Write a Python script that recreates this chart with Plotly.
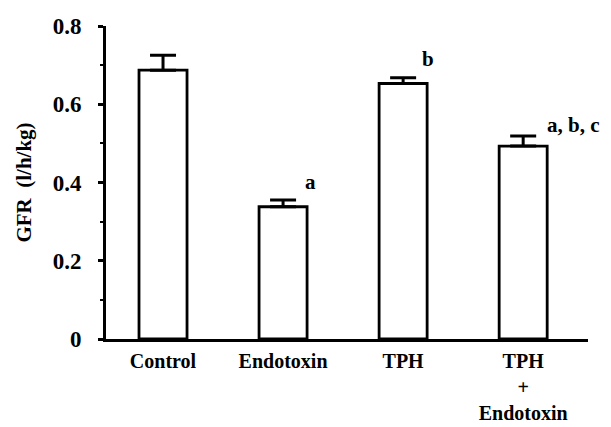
import plotly.graph_objects as go

categories = ["Control", "Endotoxin", "TPH", "TPH<br>+<br>Endotoxin"]
gfr_mean = [0.687, 0.338, 0.653, 0.493]
gfr_sem = [0.038, 0.017, 0.015, 0.026]
sig_labels = ["", "a", "b", "a, b, c"]

font_family = "Liberation Serif"
xpos = list(range(len(categories)))

fig = go.Figure()
fig.add_trace(go.Bar(
    x=xpos, y=gfr_mean, width=0.4,
    marker=dict(color="white", line=dict(color="black", width=2.8)),
    error_y=dict(type="data", array=gfr_sem, arrayminus=[0]*4, symmetric=False,
                 color="black", thickness=3, width=13),
))

label_offsets = [(0, 0), (0.225, 0.047), (0.21, 0.047), (0.42, 0.028)]
for i, lab in enumerate(sig_labels):
    if not lab:
        continue
    dx, dy = label_offsets[i]
    fig.add_annotation(x=xpos[i] + dx, y=gfr_mean[i] + gfr_sem[i] + dy, text=f"<b>{lab}</b>",
                       showarrow=False, xanchor="center", yanchor="middle",
                       font=dict(family=font_family, size=21, color="black"))

fig.update_layout(
    width=611, height=427,
    margin=dict(l=106, r=23, t=26, b=88),
    paper_bgcolor="white", plot_bgcolor="white",
    showlegend=False,
    font=dict(family=font_family, color="black"),
    xaxis=dict(
        range=[-0.475, 3.54], tickvals=xpos,
        ticktext=[f"<b>{c}</b>" for c in categories],
        showline=True, linecolor="black", linewidth=3,
        ticks="", showgrid=False, zeroline=False, automargin=False,
        ticklabelstandoff=2,
        tickfont=dict(family=font_family, size=20, color="black"),
    ),
    yaxis=dict(
        range=[0, 0.8], tickvals=[0, 0.2, 0.4, 0.6, 0.8],
        ticktext=["<b>0</b>", "<b>0.2</b>", "<b>0.4</b>", "<b>0.6</b>", "<b>0.8</b>"],
        showline=True, linecolor="black", linewidth=3,
        ticks="outside", ticklen=5, tickwidth=2.5, tickcolor="black",
        minor=dict(tickvals=[0.1, 0.3, 0.5, 0.7], ticks="outside", ticklen=3, tickwidth=2, tickcolor="black"),
        showgrid=False, zeroline=False, automargin=False,
        ticklabelstandoff=12,
        tickfont=dict(family=font_family, size=23, color="black"),
        title=dict(text="<b>GFR  (l/h/kg)</b>", standoff=16,
                   font=dict(family=font_family, size=21, color="black")),
    ),
)

fig.write_html("out.html")
